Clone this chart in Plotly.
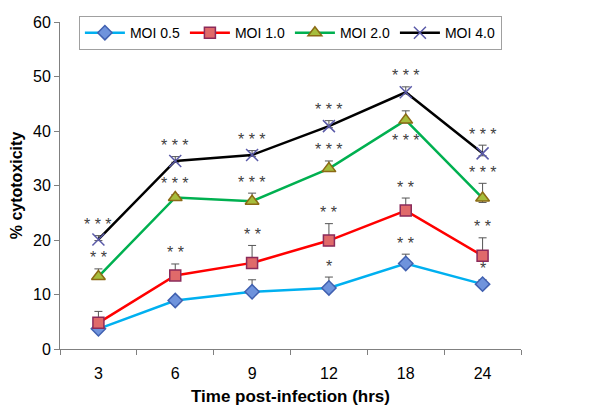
import plotly.graph_objects as go

times = ["3", "6", "9", "12", "18", "24"]

moi05 = [3.7, 8.9, 10.5, 11.2, 15.7, 11.9]
moi10 = [4.8, 13.5, 15.8, 19.9, 25.4, 17.1]
moi20 = [13.3, 27.8, 27.1, 33.1, 42.0, 27.7]
moi40 = [20.1, 34.5, 35.6, 40.9, 47.1, 35.9]

err05 = [0.8, 0.6, 2.2, 2.0, 1.7, 0.8]
err10 = [2.1, 2.1, 3.2, 3.1, 2.3, 3.3]
err20 = [1.4, 0.5, 1.5, 1.4, 1.7, 2.7]
err40 = [0.7, 0.8, 0.8, 1.0, 1.0, 1.5]

sig05 = ["", "", "", "*", "**", "*"]
sig10 = ["", "**", "**", "**", "**", "**"]
sig20 = ["**", "***", "***", "***", "***", "***"]
sig40 = ["***", "***", "***", "***", "***", "***"]
sig20_below = [False, False, False, False, True, False]

FONT = "Liberation Sans Narrow, Arial Narrow, Liberation Sans, Arial, sans-serif"

series = [
    ("MOI 0.5", moi05, err05, "#00b0f0", "diamond", "#6f93dc", "#4060b0", 11),
    ("MOI 1.0", moi10, err10, "#ff0000", "square", "#e06a6a", "#8b2a5a", 11),
    ("MOI 2.0", moi20, err20, "#00b050", "triangle-up", "#a6bd3c", "#8b6a14", 12),
    ("MOI 4.0", moi40, err40, "#000000", "x-thin-open", "#5a5aa8", "#5a5aa8", 12),
]

fig = go.Figure()
for name, vals, errs, lc, sym, fc, bc, sz in series:
    fig.add_trace(go.Scatter(
        x=times, y=vals, name=name, mode="lines+markers",
        line=dict(color=lc, width=2.5),
        marker=dict(symbol=sym, size=sz, color=fc, line=dict(color=bc, width=1.5)),
        error_y=dict(type="data", array=errs, arrayminus=[e * 0.3 for e in errs],
                     color="#555555", thickness=1, width=4),
    ))

annots = []
for vals, errs, sigs, below in [
    (moi05, err05, sig05, [False] * 6),
    (moi10, err10, sig10, [False] * 6),
    (moi20, err20, sig20, sig20_below),
    (moi40, err40, sig40, [False] * 6),
]:
    for i, (v, e, s, b) in enumerate(zip(vals, errs, sigs, below)):
        if not s:
            continue
        annots.append(dict(
            x=i, y=(v if b else v + e), xref="x", yref="y", text=" ".join(s), showarrow=False,
            yshift=(-20 if b else 11),
            font=dict(family="Liberation Sans, Arial, sans-serif", size=16, color="#404040"),
        ))

# The page body has an 8px margin, so the figure is sized/positioned to compensate.
fig.update_layout(
    width=592, height=408,
    margin=dict(l=52, r=79, t=8, b=67),
    paper_bgcolor="white", plot_bgcolor="white",
    font=dict(family=FONT, color="#000000"),
    showlegend=True,
    legend=dict(orientation="h", x=0.041, y=1.018, xanchor="left", yanchor="top",
                bordercolor="#a0a0a0", borderwidth=1, bgcolor="white",
                font=dict(family=FONT, size=14), itemwidth=40, tracegroupgap=0),
    annotations=annots,
    xaxis=dict(type="category", tickson="boundaries", ticks="outside", ticklen=5,
               tickcolor="#808080", showline=True, linecolor="#808080", linewidth=1,
               showgrid=False, range=[-0.5, 5.5], automargin=False, ticklabelstandoff=10,
               tickfont=dict(family=FONT, size=16),
               title=dict(text="<b>Time post-infection (hrs)</b>", font=dict(family=FONT, size=17), standoff=8)),
    yaxis=dict(range=[0, 60], dtick=10, ticks="outside", ticklen=5, tickcolor="#808080",
               showline=True, linecolor="#808080", linewidth=1, showgrid=False, zeroline=False,
               automargin=False, ticklabeloverflow="allow",
               tickfont=dict(family=FONT, size=16),
               title=dict(text="<b>% cytotoxicity</b>", font=dict(family=FONT, size=16), standoff=6)),
)

fig.write_html("out.html")
